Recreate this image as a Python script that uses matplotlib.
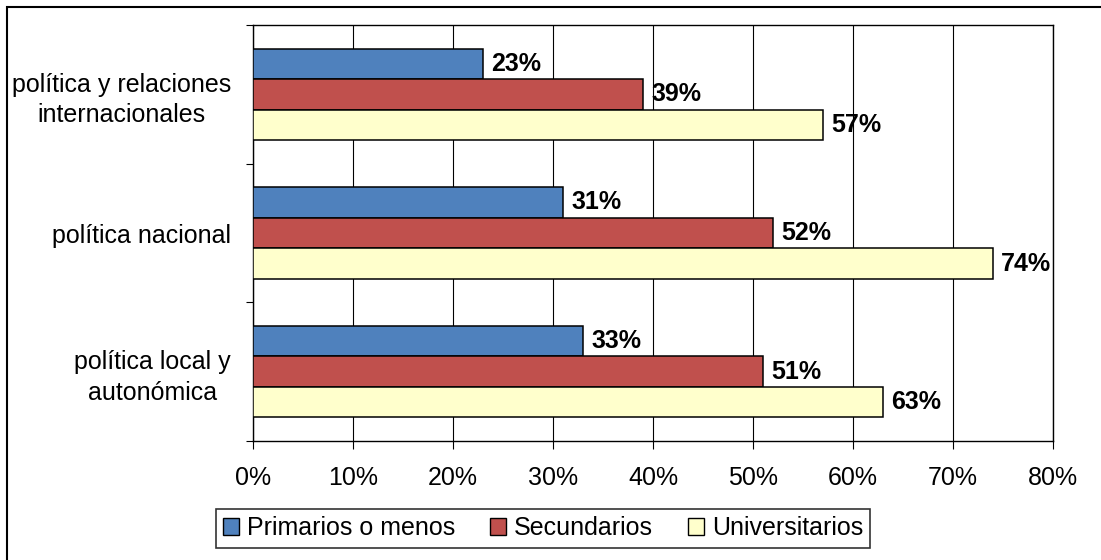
import matplotlib
matplotlib.use("Agg")
import matplotlib.pyplot as plt
from matplotlib.patches import Rectangle, Patch
from matplotlib.ticker import FuncFormatter, MultipleLocator

plt.rcParams['font.family'] = ['Liberation Sans', 'DejaVu Sans']

# Data (bottom to top, as drawn)
categories = ['política local y\nautonómica', 'política nacional', 'política y relaciones\ninternacionales']
series = ['Primarios o menos', 'Secundarios', 'Universitarios']
primarios = [33, 31, 23]
secundarios = [51, 52, 39]
universitarios = [63, 74, 57]
colors = ['#4F81BD', '#C0504D', '#FFFFCC']

fig = plt.figure(figsize=(11.01, 5.60), dpi=100)
ax = fig.add_axes([253 / 1101, 1 - 441 / 560, 800 / 1101, 416 / 560])

h = 0.22
ypos = list(range(len(categories)))
offsets = [h, 0, -h]
for vals, off, col in zip([primarios, secundarios, universitarios], offsets, colors):
    bars = ax.barh([y + off for y in ypos], vals, height=h, color=col,
                   edgecolor='black', linewidth=1.1, zorder=3)
    for b, v in zip(bars, vals):
        ax.annotate(f'{v}%', (b.get_width(), b.get_y() + b.get_height() / 2),
                    xytext=(6, 0), textcoords='offset points', ha='left', va='center',
                    fontsize=18, fontweight='bold', zorder=4)

ax.set_xlim(0, 80)
ax.set_ylim(-0.5, len(categories) - 0.5)
ax.xaxis.set_major_locator(MultipleLocator(10))
ax.xaxis.set_major_formatter(FuncFormatter(lambda v, p: f'{v:.0f}%'))
ax.grid(axis='x', color='black', linewidth=0.8, zorder=0)
ax.tick_params(axis='x', length=6, width=0.8, pad=12, labelsize=18)

ax.set_yticks(ypos)
ax.set_yticklabels(categories, multialignment='center', linespacing=1.35)
ax.set_yticks([-0.5, 0.5, 1.5, 2.5], minor=True)
ax.tick_params(axis='y', which='major', length=0, pad=16, labelsize=18)
ax.tick_params(axis='y', which='minor', length=5, width=0.8)

for s in ax.spines.values():
    s.set_linewidth(1.0)
    s.set_color('black')

handles = [Patch(facecolor=c, edgecolor='black', linewidth=1.0) for c in colors]
leg = fig.legend(handles, series, loc='center', bbox_to_anchor=(543 / 1101, 1 - 528 / 560),
                 ncol=3, fontsize=18, frameon=True, fancybox=False, edgecolor='black',
                 handlelength=0.65, handleheight=0.65, handletextpad=0.3, columnspacing=1.4,
                 borderpad=0.3)
leg.get_frame().set_linewidth(1.2)

fig.patches.append(Rectangle((7 / 1101, -0.1), 1.2, 1 - 7 / 560 + 0.1, transform=fig.transFigure,
                             fill=False, edgecolor='black', linewidth=1.5))

fig.savefig('out.png', dpi=100)
